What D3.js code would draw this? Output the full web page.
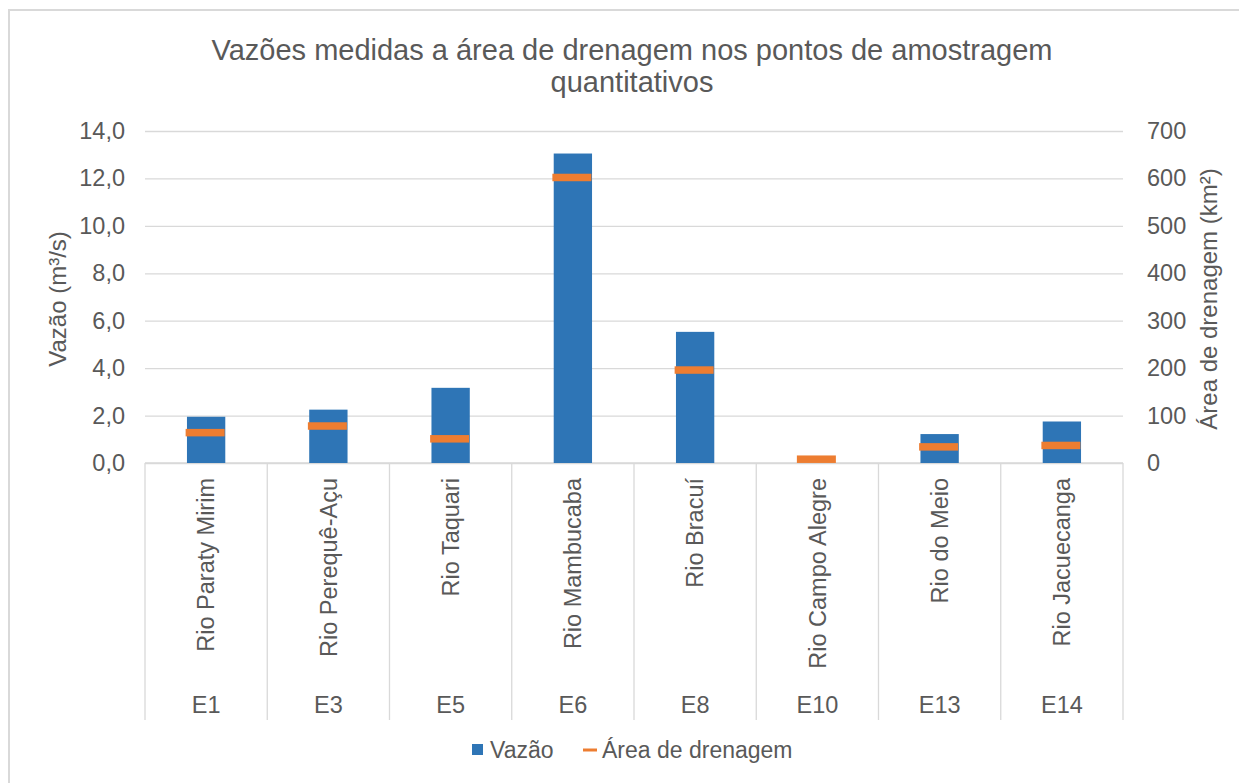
<!DOCTYPE html>
<html>
<head>
<meta charset="utf-8">
<script src="https://cdn.jsdelivr.net/npm/d3@7"></script>
<style>
  body { margin: 0; background: #fff; }
  text { font-family: "Liberation Sans", Arial, sans-serif; fill: #595959; }
</style>
</head>
<body>
<div id="chart"></div>
<script>
// data
const codes = ["E1", "E3", "E5", "E6", "E8", "E10", "E13", "E14"];
const rivers = ["Rio Paraty Mirim", "Rio Perequê-Açu", "Rio Taquari", "Rio Mambucaba",
                "Rio Bracuí", "Rio Campo Alegre", "Rio do Meio", "Rio Jacuecanga"];
const vazao = [1.95, 2.25, 3.17, 13.05, 5.53, 0, 1.22, 1.75];
const area = [64, 78, 51, 602, 196, 8, 34, 37];
const leftTicks = [0, 2, 4, 6, 8, 10, 12, 14];
const rightTicks = [0, 100, 200, 300, 400, 500, 600, 700];

const width = 1239, height = 783;
const plotL = 145, plotR = 1123, plotT = 131, plotB = 463;
const tickFont = 23.5;

const svg = d3.select("#chart").append("svg")
    .attr("width", width)
    .attr("height", height);

// chart area border
svg.append("rect")
    .attr("x", 9).attr("y", 10)
    .attr("width", width + 20).attr("height", height + 20)
    .attr("fill", "#fff")
    .attr("stroke", "#d9d9d9")
    .attr("stroke-width", 2);

const x = d3.scaleBand()
    .domain(codes)
    .range([plotL, plotR])
    .padding(0);

const y = d3.scaleLinear().domain([0, 14]).range([plotB, plotT]);
const y2 = d3.scaleLinear().domain([0, 700]).range([plotB, plotT]);

const comma = d => d3.format(".1f")(d).replace(".", ",");

// gridlines
svg.append("g")
    .attr("transform", `translate(${plotL},0)`)
    .call(d3.axisLeft(y).tickValues(leftTicks).tickSize(-(plotR - plotL)).tickFormat(""))
    .call(g => g.select(".domain").remove())
    .call(g => g.selectAll("line").attr("stroke", "#d9d9d9").attr("stroke-width", 1.3));

// left axis labels
svg.append("g")
    .attr("transform", `translate(${plotL},0)`)
    .call(d3.axisLeft(y).tickValues(leftTicks).tickSize(0).tickPadding(20).tickFormat(comma))
    .call(g => g.select(".domain").remove())
    .call(g => g.selectAll("text").attr("font-size", tickFont).style("font-family", "Liberation Sans, Arial").attr("fill", "#595959"));

// right axis labels
svg.append("g")
    .attr("transform", `translate(${plotR},0)`)
    .call(d3.axisRight(y2).tickValues(rightTicks).tickSize(0).tickPadding(24).tickFormat(d3.format("d")))
    .call(g => g.select(".domain").remove())
    .call(g => g.selectAll("text").attr("font-size", tickFont).style("font-family", "Liberation Sans, Arial").attr("fill", "#595959"));

// axis titles
svg.append("text")
    .attr("transform", `translate(58,${(plotT + plotB) / 2 + 2}) rotate(-90)`)
    .attr("text-anchor", "middle")
    .attr("dy", "0.35em")
    .attr("font-size", 24)
    .text("Vazão (m³/s)");

svg.append("text")
    .attr("transform", `translate(1209,${(plotT + plotB) / 2 + 2}) rotate(-90)`)
    .attr("text-anchor", "middle")
    .attr("dy", "0.35em")
    .attr("font-size", 24)
    .text("Área de drenagem (km²)");

// category axis: baseline + separators
const catBottom = 720;
svg.append("line")
    .attr("x1", plotL).attr("x2", plotR)
    .attr("y1", plotB).attr("y2", plotB)
    .attr("stroke", "#d9d9d9").attr("stroke-width", 1.3);

const seps = codes.map(c => x(c)).concat([plotR]);
svg.selectAll(".sep").data(seps).join("line")
    .attr("class", "sep")
    .attr("x1", d => d).attr("x2", d => d)
    .attr("y1", plotB).attr("y2", catBottom)
    .attr("stroke", "#d9d9d9").attr("stroke-width", 1.3);

// bars
const barW = x.bandwidth() / (1 + 2.19);
svg.selectAll(".bar").data(vazao).join("rect")
    .attr("class", "bar")
    .attr("x", (d, i) => x(codes[i]) + x.bandwidth() / 2 - barW / 2)
    .attr("y", d => y(d))
    .attr("width", barW)
    .attr("height", d => plotB - y(d))
    .attr("fill", "#2e75b6");

// drainage area markers (dash)
const dashW = 39, dashH = 7.5;
svg.selectAll(".dash").data(area).join("rect")
    .attr("class", "dash")
    .attr("x", (d, i) => x(codes[i]) + x.bandwidth() / 2 - dashW / 2 - 1)
    .attr("y", d => y2(d) - dashH / 2)
    .attr("width", dashW)
    .attr("height", dashH)
    .attr("fill", "#ed7d31");

// river names (rotated)
svg.selectAll(".river").data(rivers).join("text")
    .attr("class", "river")
    .attr("transform", (d, i) => `translate(${x(codes[i]) + x.bandwidth() / 2},478) rotate(-90)`)
    .attr("text-anchor", "end")
    .attr("dy", "0.35em")
    .attr("font-size", tickFont)
    .text(d => d);

// station codes
svg.selectAll(".code").data(codes).join("text")
    .attr("class", "code")
    .attr("x", d => x(d) + x.bandwidth() / 2)
    .attr("y", 713)
    .attr("text-anchor", "middle")
    .attr("font-size", tickFont)
    .text(d => d);

// title
const title = svg.append("text")
    .attr("text-anchor", "middle")
    .attr("font-size", 29);
title.append("tspan").attr("x", 632).attr("y", 60)
    .text("Vazões medidas a área de drenagem nos pontos de amostragem");
title.append("tspan").attr("x", 632).attr("y", 92)
    .text("quantitativos");

// legend
const lg = svg.append("g");
lg.append("rect")
    .attr("x", 472).attr("y", 744)
    .attr("width", 11).attr("height", 11)
    .attr("fill", "#2e75b6");
lg.append("text")
    .attr("x", 490).attr("y", 758)
    .attr("font-size", 23)
    .text("Vazão");
lg.append("line")
    .attr("x1", 583).attr("x2", 597)
    .attr("y1", 750).attr("y2", 750)
    .attr("stroke", "#ed7d31").attr("stroke-width", 3);
lg.append("text")
    .attr("x", 602).attr("y", 758)
    .attr("font-size", 23)
    .text("Área de drenagem");
</script>
</body>
</html>
